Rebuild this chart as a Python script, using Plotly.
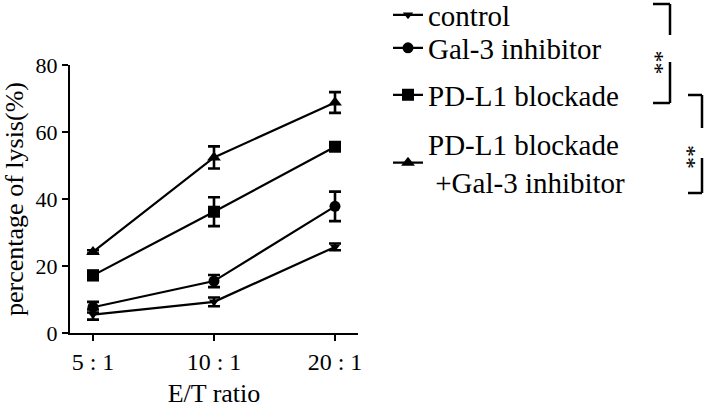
import plotly.graph_objects as go

ratios = ["5 : 1", "10 : 1", "20 : 1"]
series_names = ["control", "Gal-3 inhibitor", "PD-L1 blockade", "PD-L1 blockade<br> +Gal-3 inhibitor"]
control = [5.5, 9.3, 25.7]
control_err = [1.5, 1.3, 1.0]
gal3 = [7.7, 15.5, 37.8]
gal3_err = [1.6, 1.8, 4.4]
pdl1 = [17.2, 36.2, 55.6]
pdl1_err = [1.4, 4.3, 1.2]
combo = [24.2, 52.4, 68.8]
combo_err = [0.5, 3.3, 3.1]
symbols = ["triangle-down", "circle", "square", "triangle-up"]
sizes = [9, 11, 12, 12]

# legend slots: pixel centre rows of each legend entry
legend_ids = ["legend", "legend2", "legend3", "legend4"]
legend_rows = [15, 48, 95, 163]

font = "Liberation Serif"

def px(xp):
    return (xp - 70) / 288.0
def py(yp):
    return (333 - yp) / 268.0

fig = go.Figure()
for name, vals, errs, sym, sz, lid in zip(series_names, [control, gal3, pdl1, combo],
                                          [control_err, gal3_err, pdl1_err, combo_err], symbols, sizes, legend_ids):
    fig.add_trace(go.Scatter(
        x=ratios, y=vals, name=name, mode="lines+markers",
        line=dict(color="black", width=2.2),
        marker=dict(symbol=sym, size=sz, color="black"),
        error_y=dict(type="data", array=errs, visible=True, color="black", thickness=2.6, width=6),
        legend=lid,
    ))

legend_layout = {}
for lid, row in zip(legend_ids, legend_rows):
    legend_layout[lid] = dict(x=px(388), y=py(row), xanchor="left", yanchor="middle",
                              font=dict(family=font, size=29, color="black"),
                              itemwidth=30, bgcolor="rgba(0,0,0,0)")

fig.update_layout(
    width=709, height=408,
    margin=dict(l=70, r=351, t=65, b=75, autoexpand=False),
    plot_bgcolor="white", paper_bgcolor="white",
    font=dict(family=font, size=24, color="black"),
    showlegend=True,
    xaxis=dict(range=[-0.19, 2.19], showline=True, linecolor="black", linewidth=2.2,
               ticks="outside", ticklen=6, tickwidth=2, tickcolor="black", showgrid=False,
               zeroline=False, title=dict(text="E/T ratio", standoff=12, font=dict(family=font, size=26)),
               tickfont=dict(family=font, size=24)),
    yaxis=dict(range=[0, 80], tickvals=[0, 20, 40, 60, 80], showline=True, linecolor="black",
               linewidth=2.2, ticks="outside", ticklen=6, tickwidth=2, tickcolor="black",
               showgrid=False, zeroline=False,
               title=dict(text="percentage of lysis(%)", standoff=6, font=dict(family=font, size=26)),
               tickfont=dict(family=font, size=22)),
    **legend_layout,
)

bracket_style = dict(color="black", width=2.5)
for (x0, x1, y0, y1, sy0, sy1) in [(653, 670, 4, 103, 35, 62), (688, 702, 95, 193, 128, 158)]:
    fig.add_shape(type="line", xref="paper", yref="paper", x0=px(x0), x1=px(x1), y0=py(y0), y1=py(y0), line=bracket_style)
    fig.add_shape(type="line", xref="paper", yref="paper", x0=px(x1), x1=px(x1), y0=py(y0), y1=py(sy0), line=bracket_style)
    fig.add_shape(type="line", xref="paper", yref="paper", x0=px(x1), x1=px(x1), y0=py(sy1), y1=py(y1), line=bracket_style)
    fig.add_shape(type="line", xref="paper", yref="paper", x0=px(x0), x1=px(x1), y0=py(y1), y1=py(y1), line=bracket_style)
    fig.add_annotation(xref="paper", yref="paper", x=px(x1 + 1), y=py((sy0 + sy1) / 2),
                       text="**", showarrow=False, textangle=90,
                       font=dict(family=font, size=24, color="black"))

fig.write_html("out.html", config={"displayModeBar": False},
               post_script="document.body.style.margin='0';")
